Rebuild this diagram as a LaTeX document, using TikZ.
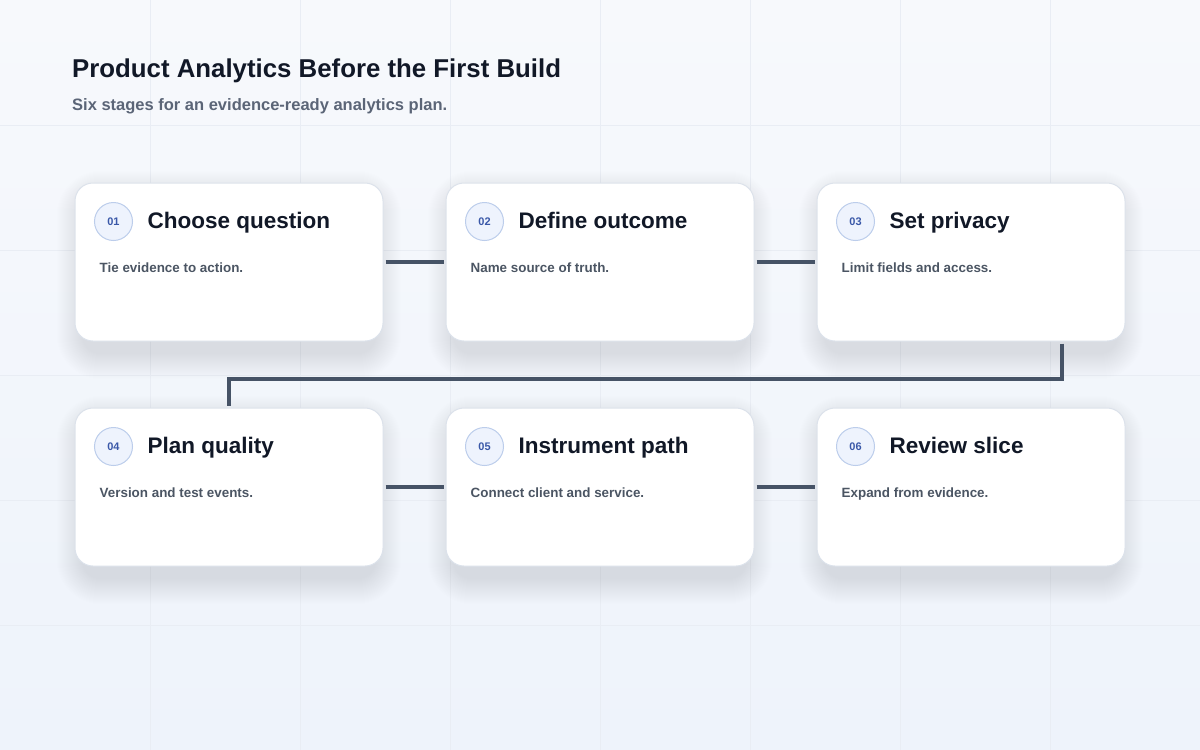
\documentclass[tikz,border=0pt]{standalone}
\usepackage{fontspec}
\setmainfont{Liberation Sans}
\usetikzlibrary{calc}

\definecolor{bgA}{HTML}{F7F9FC}
\definecolor{bgB}{HTML}{EEF3FB}
\definecolor{gridc}{HTML}{E9EDF4}
\definecolor{ink}{HTML}{111827}
\definecolor{subc}{HTML}{5B6577}
\definecolor{descc}{HTML}{4B5563}
\definecolor{wire}{HTML}{465366}
\definecolor{cardline}{HTML}{DCE2EB}
\definecolor{numfill}{HTML}{EEF3FD}
\definecolor{numline}{HTML}{BCCDEB}
\definecolor{numtext}{HTML}{3A58A8}
\definecolor{shadowc}{HTML}{8E9AB2}

\tikzset{
  card/.style={draw=cardline, line width=1pt, fill=white, rounded corners=18pt,
    minimum width=308pt, minimum height=158pt, inner sep=0pt},
  numbadge/.style={circle, draw=numline, line width=1pt, fill=numfill,
    minimum size=38pt, inner sep=0pt, text=numtext,
    font=\bfseries\fontsize{11}{13}\selectfont},
  cardtitle/.style={anchor=base west, inner sep=0pt, text=ink,
    font=\bfseries\fontsize{22.5}{26}\selectfont},
  carddesc/.style={anchor=base west, inner sep=0pt, text=descc,
    font=\bfseries\fontsize{13.4}{16}\selectfont},
  wireline/.style={draw=wire, line width=3.5pt, shorten >=2pt, shorten <=2pt},
}

\newcommand{\mkcard}[6]{%
  % #1 name, #2 x center, #3 y center, #4 number, #5 title, #6 description
  \foreach \i in {1,...,26}{
    \fill[shadowc, opacity=0.008, rounded corners={18pt+\i pt}]
      ($(#2,#3)+(-154-\i+8,-79-\i+14)$) rectangle ($(#2,#3)+(154+\i-8,79+\i+12)$);
  }
  \node[card] (#1) at (#2,#3) {};
  \node[numbadge] (#1n) at ($(#1.north west)+(39,39)$) {#4};
  \node[cardtitle] (#1t) at ($(#1.north west)+(73,46)$) {#5};
  \node[carddesc] (#1d) at ($(#1.north west)+(25,90)$) {#6};
}

\begin{document}
\begin{tikzpicture}[x=1pt,y=-1pt]
  \useasboundingbox (0,0) rectangle (1200,750);
  \shade[top color=bgA, bottom color=bgB] (0,0) rectangle (1200,750);
  \foreach \gx in {150,300,...,1050}{\draw[gridc, line width=0.6pt] (\gx,0) -- (\gx,750);}
  \foreach \gy in {125,250,...,625}{\draw[gridc, line width=0.6pt] (0,\gy) -- (1200,\gy);}

  \node[anchor=base west, inner sep=0pt, text=ink, font=\bfseries\fontsize{25.8}{30}\selectfont]
    (title) at (72,77) {Product Analytics Before the First Build};
  \node[anchor=base west, inner sep=0pt, text=subc, font=\bfseries\fontsize{16.5}{19}\selectfont]
    (subtitle) at (72,110) {Six stages for an evidence-ready analytics plan.};

  \mkcard{c1}{229}{262}{01}{Choose question}{Tie evidence to action.}
  \mkcard{c2}{600}{262}{02}{Define outcome}{Name source of truth.}
  \mkcard{c3}{971}{262}{03}{Set privacy}{Limit fields and access.}
  \mkcard{c4}{229}{487}{04}{Plan quality}{Version and test events.}
  \mkcard{c5}{600}{487}{05}{Instrument path}{Connect client and service.}
  \mkcard{c6}{971}{487}{06}{Review slice}{Expand from evidence.}

  \draw[wireline] (c1.east) -- (c2.west);
  \draw[wireline] (c2.east) -- (c3.west);
  \draw[wireline] (c4.east) -- (c5.west);
  \draw[wireline] (c5.east) -- (c6.west);
  \coordinate (bend) at (1062,379);
  \draw[wireline] (c3.south -| bend) -- (bend) -| (c4.north);
\end{tikzpicture}
\end{document}
